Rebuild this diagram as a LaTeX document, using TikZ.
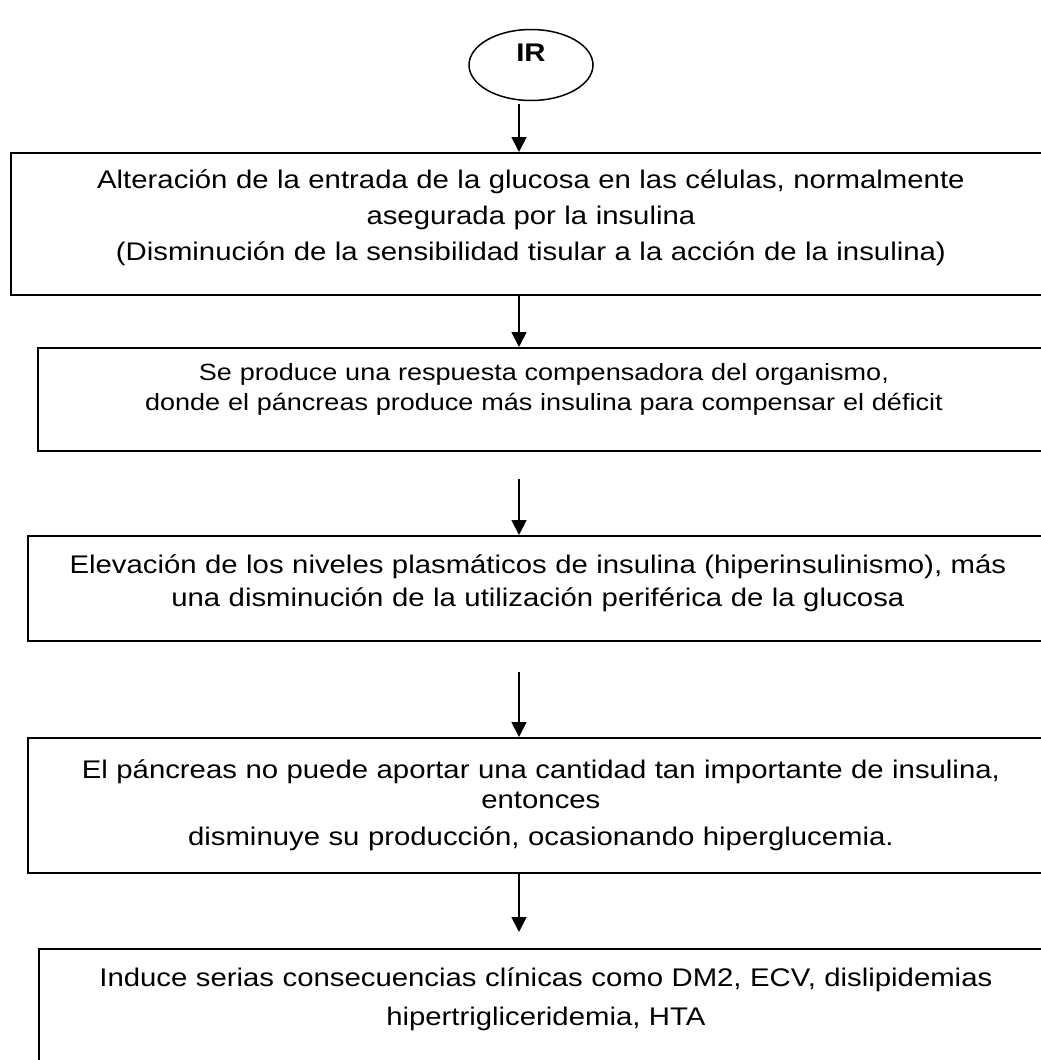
\documentclass[tikz,border=0pt]{standalone}
\usepackage{fontspec}
\setmainfont[FakeStretch=1.15]{Liberation Sans}
\usetikzlibrary{shapes.geometric,arrows.meta}

\tikzset{
  stage/.style={draw, line width=1.8pt, anchor=north west, inner sep=0pt,
    align=center, font=\fontsize{25.5}{30}\selectfont},
  oval/.style={draw, ellipse, line width=1.5pt, minimum width=124pt,
    minimum height=71pt, inner sep=0pt, font=\fontsize{25.5}{30}\selectfont\bfseries},
}

\begin{document}
\begin{tikzpicture}[x=1pt,y=1pt,>={Triangle[length=15pt,width=15pt]}]
      \path[use as bounding box, clip] (0,0) rectangle (1041,-1060);
      \node[oval, text height=18pt, text depth=26pt] (ir) at (531,-65) {IR};
      \node[stage, text width=1040pt, text height=36pt, text depth=106pt] (b1) at (10,-152)
        {Alteración de la entrada de la glucosa en las células, normalmente\\[6pt]
         asegurada por la insulina\\[6pt]
         (Disminución de la sensibilidad tisular a la acción de la insulina)};
      \node[stage, text width=1012pt, text height=33pt, text depth=70pt,
        font=\fontsize{23.5}{30}\selectfont] (b2) at (37,-347)
        {Se produce una respuesta compensadora del organismo,\\
         donde el páncreas produce más insulina para compensar el déficit};
      \node[stage, text width=1020pt, text height=38pt, text depth=67pt] (b3) at (27,-535)
        {Elevación de los niveles plasmáticos de insulina (hiperinsulinismo), más\\[3pt]
         una disminución de la utilización periférica de la glucosa};
      \node[stage, text width=1026pt, text height=41pt, text depth=94pt] (b4) at (27,-737)
        {El páncreas no puede aportar una cantidad tan importante de insulina,\\
         entonces\\[7pt]
         disminuye su producción, ocasionando hiperglucemia.};
      \node[stage, text width=1014pt, text height=38pt, text depth=94pt] (b5) at (38,-948)
        {Induce serias consecuencias clínicas como DM2, ECV, dislipidemias\\[9pt]
         hipertrigliceridemia, HTA};
      \coordinate (axis) at (519,0);
      \begin{scope}[->, line width=1.8pt]
        \draw[shorten <=3pt] (axis |- ir.south) to (axis |- b1.north);
        \draw (axis |- b1.south) to (axis |- b2.north);
        \draw[shorten <=27pt] (axis |- b2.south) to (axis |- b3.north);
        \draw[shorten <=30pt] (axis |- b3.south) to (axis |- b4.north);
        \draw[shorten >=16pt] (axis |- b4.south) to (axis |- b5.north);
      \end{scope}
    \end{tikzpicture}
\end{document}
